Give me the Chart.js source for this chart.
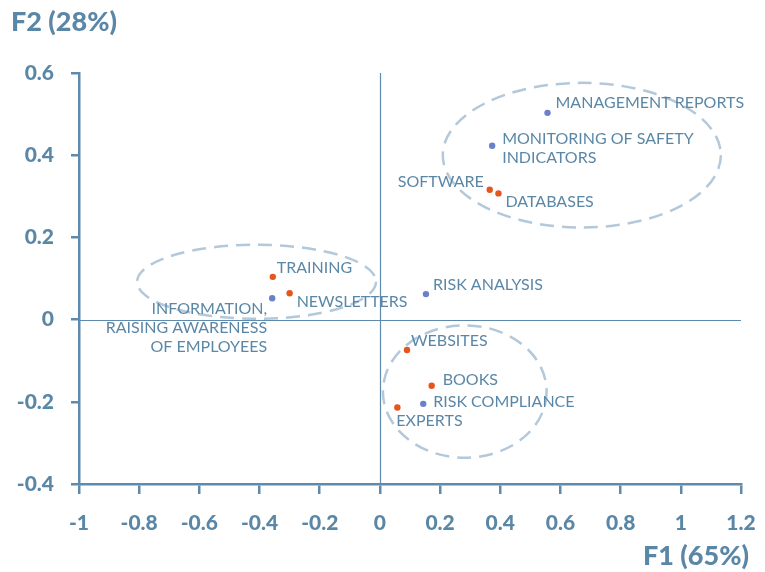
<!DOCTYPE html>
<html>
<head>
<meta charset="utf-8">
<script src="https://cdn.jsdelivr.net/npm/chart.js@4"></script>
<style>
  body { margin: 0; background: #fff; }
  canvas { display: block; }
</style>
</head>
<body>
<canvas id="chart" width="765" height="572"></canvas>
<script>
'use strict';

// blue points
let blueNames = [['MANAGEMENT REPORTS'], ['MONITORING OF SAFETY', 'INDICATORS'], ['INFORMATION,', 'RAISING AWARENESS', 'OF EMPLOYEES'], ['RISK ANALYSIS'], ['RISK COMPLIANCE']];
let blueX = [0.557, 0.373, -0.358, 0.153, 0.144];
let blueY = [0.503, 0.423, 0.052, 0.062, -0.205];

// orange points
let orangeNames = [['SOFTWARE'], ['DATABASES'], ['TRAINING'], ['NEWSLETTERS'], ['WEBSITES'], ['BOOKS'], ['EXPERTS']];
let orangeX = [0.365, 0.394, -0.356, -0.300, 0.090, 0.172, 0.058];
let orangeY = [0.316, 0.307, 0.104, 0.064, -0.074, -0.161, -0.214];

// dashed groups: centre x, centre y, radius x, radius y (in axis units)
let groupCx = [0.671, -0.410, 0.282];
let groupCy = [0.400, 0.092, -0.175];
let groupRx = [0.462, 0.397, 0.272];
let groupRy = [0.176, 0.090, 0.161];

let xTicks = [-1, -0.8, -0.6, -0.4, -0.2, 0, 0.2, 0.4, 0.6, 0.8, 1, 1.2];
let yTicks = [-0.4, -0.2, 0, 0.2, 0.4, 0.6];
let xTitle = 'F1 (65%)';
let yTitle = 'F2 (28%)';

// label placement next to each point: [dx, dy, align]
let blueLabelPos = [[8, -10, 'left'], [10, -7, 'left'], [-5, 11, 'right'], [7, -9, 'left'], [10, -2, 'left']];
let orangeLabelPos = [[-6, -8, 'right'], [7, 8, 'left'], [4, -9, 'left'], [7, 9, 'left'], [4, -9, 'left'], [11, -6, 'left'], [-1, 13, 'left']];

const axisColor = '#5e8aad';
const textColor = '#5b87a7';
const tickFont = { family: 'Lato', size: 21, weight: '900' };

function toPoints(xs, ys) {
    let pts = [];
    for (let i = 0; i < xs.length; i++) {
        pts.push({ x: xs[i], y: ys[i] });
    }
    return pts;
}

function fmt(v) {
    return String(Number(v.toFixed(1)));
}

const decorations = {
    id: 'decorations',
    beforeDatasetsDraw(chart) {
        let ctx = chart.ctx;
        let xs = chart.scales.x;
        let ys = chart.scales.y;
        let area = chart.chartArea;
        ctx.save();
        // zero lines
        ctx.strokeStyle = axisColor;
        ctx.lineWidth = 1.2;
        ctx.beginPath();
        let x0 = Math.round(xs.getPixelForValue(0)) + 0.5;
        let y0 = Math.round(ys.getPixelForValue(0)) + 0.5;
        ctx.moveTo(x0, area.top);
        ctx.lineTo(x0, area.bottom);
        ctx.moveTo(area.left, y0);
        ctx.lineTo(area.right, y0);
        ctx.stroke();
        // dashed groups
        ctx.strokeStyle = '#b3c8da';
        ctx.lineWidth = 2.5;
        ctx.setLineDash([14, 8]);
        for (let i = 0; i < groupCx.length; i++) {
            let cx = xs.getPixelForValue(groupCx[i]);
            let cy = ys.getPixelForValue(groupCy[i]);
            let rx = Math.abs(xs.getPixelForValue(groupCx[i] + groupRx[i]) - cx);
            let ry = Math.abs(ys.getPixelForValue(groupCy[i] + groupRy[i]) - cy);
            ctx.beginPath();
            ctx.ellipse(cx, cy, rx, ry, 0, 0, Math.PI * 2);
            ctx.stroke();
        }
        ctx.restore();
    },
    afterDatasetsDraw(chart) {
        let ctx = chart.ctx;
        ctx.save();
        ctx.fillStyle = textColor;
        ctx.font = '16px Lato';
        ctx.textBaseline = 'middle';
        let sets = [[blueNames, blueLabelPos], [orangeNames, orangeLabelPos]];
        for (let d = 0; d < sets.length; d++) {
            let meta = chart.getDatasetMeta(d);
            let names = sets[d][0];
            let pos = sets[d][1];
            for (let i = 0; i < names.length; i++) {
                let el = meta.data[i];
                ctx.textAlign = pos[i][2];
                for (let j = 0; j < names[i].length; j++) {
                    ctx.fillText(names[i][j], el.x + pos[i][0], el.y + pos[i][1] + j * 19);
                }
            }
        }
        // axis titles
        ctx.font = '900 27px Lato';
        ctx.textAlign = 'left';
        ctx.fillText(yTitle, 11, 22);
        ctx.textAlign = 'right';
        ctx.fillText(xTitle, 749, 556);
        ctx.restore();
    }
};

let chartSpot = document.getElementById('chart').getContext('2d');

let myChart = new Chart(chartSpot, {
    type: 'scatter',
    data: {
        datasets: [
            {
                label: 'blue',
                data: toPoints(blueX, blueY),
                backgroundColor: '#6a80c9',
                borderWidth: 0,
                pointRadius: 3.2,
            },
            {
                label: 'orange',
                data: toPoints(orangeX, orangeY),
                backgroundColor: '#e5561f',
                borderWidth: 0,
                pointRadius: 3.2,
            },
        ],
    },
    options: {
        responsive: false,
        animation: false,
        devicePixelRatio: 1,
        layout: { padding: { top: 73, right: 24, bottom: 0, left: 0 } },
        plugins: {
            legend: { display: false },
            tooltip: { enabled: false },
        },
        scales: {
            x: {
                type: 'linear',
                min: xTicks[0],
                max: xTicks[xTicks.length - 1],
                afterBuildTicks: function (scale) {
                    scale.ticks = xTicks.map(v => ({ value: v }));
                },
                afterFit: function (scale) {
                    scale.height = 88;
                    scale.paddingLeft = 0;
                    scale.paddingRight = 0;
                },
                border: { color: axisColor, width: 2.5 },
                grid: { drawOnChartArea: false, tickLength: 10, color: axisColor, tickColor: axisColor, lineWidth: 2.5 },
                ticks: { color: textColor, font: tickFont, padding: 17, maxRotation: 0, autoSkip: false, callback: fmt },
            },
            y: {
                type: 'linear',
                min: yTicks[0],
                max: yTicks[yTicks.length - 1],
                afterBuildTicks: function (scale) {
                    scale.ticks = yTicks.map(v => ({ value: v }));
                },
                afterFit: function (scale) {
                    scale.width = 79;
                    scale.paddingTop = 0;
                    scale.paddingBottom = 0;
                },
                border: { color: axisColor, width: 2.5 },
                grid: { drawOnChartArea: false, tickLength: 8, color: axisColor, tickColor: axisColor, lineWidth: 2.5 },
                ticks: { color: textColor, font: tickFont, padding: 17, autoSkip: false, callback: fmt },
            },
        },
    },
    plugins: [decorations],
});
</script>
</body>
</html>
